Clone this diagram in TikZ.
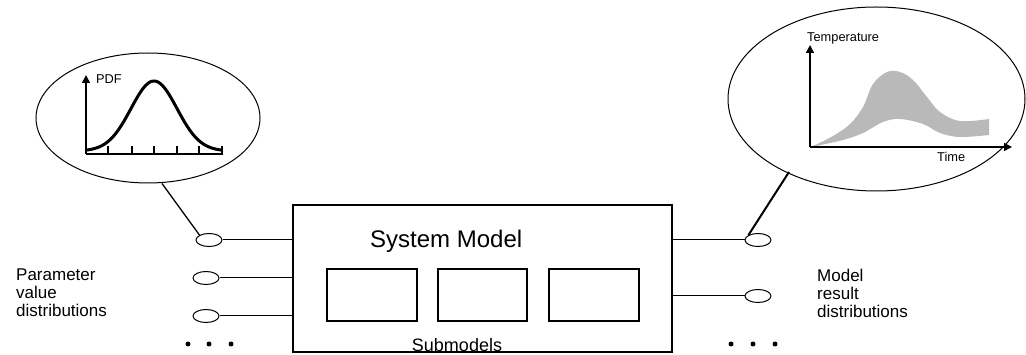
\documentclass[tikz,border=0pt]{standalone}
\usepackage{fontspec}
\setmainfont{Liberation Sans}
\usetikzlibrary{arrows.meta,shapes.geometric}
\begin{document}
\begin{tikzpicture}[x=1pt,y=-1pt,
  port/.style={draw,line width=1pt,ellipse,minimum width=26pt,minimum height=13pt,inner sep=0pt},
  wire/.style={draw,line width=1pt},
  subbox/.style={draw,line width=1.3pt},
  dot/.style={circle,fill=black,inner sep=0pt,minimum size=5pt},
  lbl/.style={align=left,anchor=north west,font=\fontsize{17}{18}\selectfont,inner sep=0pt},
  small/.style={font=\fontsize{12.8}{14}\selectfont,inner sep=0pt},
  axis/.style={line width=1.6pt,-{Triangle[length=8pt,width=8pt]}}]
\useasboundingbox (0,0) rectangle (1026,355);
% main box
\draw[line width=1.2pt] (293,205) rectangle (672,352);
\node[anchor=west,inner sep=0pt,font=\fontsize{24}{28}\selectfont] (title) at (370,241) {System Model};
\draw[subbox] (327,269) rectangle (417,321);
\draw[subbox] (438,269) rectangle (527,321);
\draw[subbox] (549,269) rectangle (639,321);
\node[inner sep=0pt,font=\fontsize{18}{20}\selectfont] (sub) at (457,345) {Submodels};
\coordinate (boxL1) at (293,240);
\coordinate (boxL2) at (293,278);
\coordinate (boxL3) at (293,316);
\coordinate (boxR1) at (672,240);
\coordinate (boxR2) at (672,296);
% left ports
\node[port] (p1) at (209,240) {};
\node[port] (p2) at (206,278) {};
\node[port] (p3) at (206,316) {};
\draw[wire] (p1) -- (boxL1);
\draw[wire] (p2) -- (boxL2);
\draw[wire] (p3) -- (boxL3);
\node[dot] (d1) at (188,344) {};
\node[dot] (d2) at (209,344) {};
\node[dot] (d3) at (231,344) {};
% right ports
\node[port] (q1) at (758,240) {};
\node[port] (q2) at (758,296) {};
\draw[wire] (boxR1) -- (q1);
\draw[wire] (boxR2) -- (q2);
\node[dot] (e1) at (731,344) {};
\node[dot] (e2) at (753,344) {};
\node[dot] (e3) at (775,344) {};
% labels
\node[lbl] (plabel) at (16,269) {Parameter\\value\\distributions};
\node[lbl] (mlabel) at (817,269) {Model\\result\\distributions};
% left ellipse with PDF
\node[draw,line width=1pt,ellipse,minimum width=224pt,minimum height=130pt,inner sep=0pt] (lell) at (148,118) {};
\draw[line width=1.3pt] (lell.south) ++(14,0) coordinate (lc) -- (p1.north west);
\draw[line width=1.6pt] (86,154) -- (223,154);
\draw[axis] (86,154) -- (86,75);
\foreach \x in {108,132,154,177,199,222} \draw[line width=1.4pt] (\x,154) -- (\x,146);
\node[small,anchor=west] (pdf) at (96,79) {PDF};
\draw[line width=3pt,line join=round] plot[domain=86:222,samples=90] (\x,{151-70*exp(-((\x-154)*(\x-154))/(2*23*23))});
% right ellipse with temperature band
\node[draw,line width=1pt,ellipse,minimum width=297pt,minimum height=184pt,inner sep=0pt] (rell) at (876.5,99) {};
\fill[gray!55] plot[smooth,tension=0.6] coordinates {(811,147) (833,136) (850,124) (863,107) (873,84) (887,72) (900,72) (913,80) (927,97) (940,112) (960,121) (989,119)}
  -- (989,135)
  -- plot[smooth,tension=0.6] coordinates {(989,135) (960,137) (940,133) (923,124) (900,119) (883,122) (863,133) (843,140) (811,147)} -- cycle;
\draw[axis] (810,147) -- (1012,147);
\draw[axis] (810,147) -- (810,45);
\node[small,anchor=west] (temp) at (807,38) {Temperature};
\node[small,anchor=west] (time) at (937,157) {Time};
\coordinate (rc) at (789,172);
\draw[line width=2pt] (rc) -- (q1.north west);
\end{tikzpicture}
\end{document}
